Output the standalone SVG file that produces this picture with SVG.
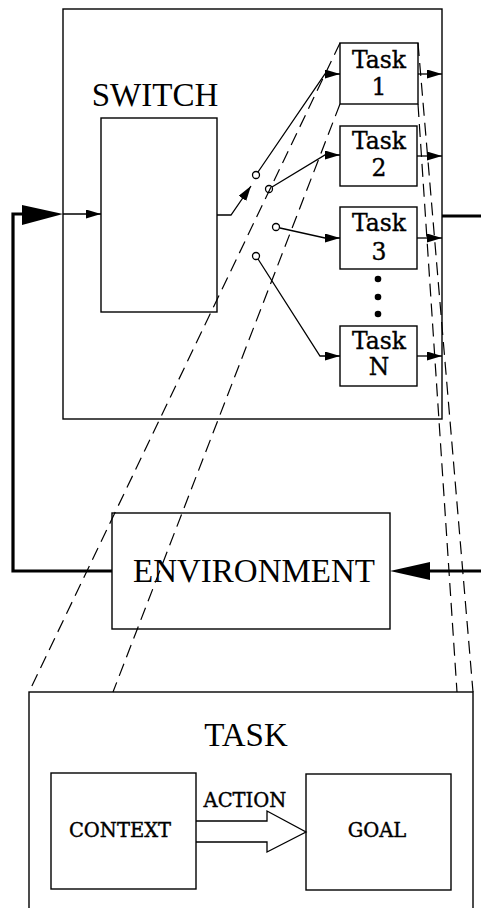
<svg xmlns="http://www.w3.org/2000/svg" width="481" height="908" viewBox="0 0 481 908">
<style>
.box{fill:none;stroke:#000;stroke-width:1.4}
.ln{fill:none;stroke:#000;stroke-width:1.3}
.thick{fill:none;stroke:#000;stroke-width:3.2}
.dash{fill:none;stroke:#000;stroke-width:1.2;stroke-dasharray:13 7}
.sw{fill:#fff;stroke:#000;stroke-width:1.3}
.big{font-family:"Liberation Serif","Times New Roman",serif;fill:#000;text-anchor:middle}
.tk{font-family:"DejaVu Serif",serif;font-size:23.5px;fill:#000;stroke:#000;stroke-width:0.35;text-anchor:middle}
.lb{font-family:"DejaVu Serif",serif;font-size:19.5px;fill:#000;stroke:#000;stroke-width:0.4;text-anchor:middle}
</style>
<defs>
<marker id="arr" markerUnits="userSpaceOnUse" markerWidth="16" markerHeight="10" refX="15" refY="4.5" orient="auto">
<path d="M0,0 L15,4.5 L0,9 z" fill="#000"/>
</marker>
</defs>
<rect width="481" height="908" fill="#fff"/>

<g id="switch-frame">
<rect class="box" x="63" y="9" width="379" height="410"/>
<text class="big" x="155" y="106" font-size="33">SWITCH</text>
</g>
<g id="switch">
<rect class="box" x="101" y="118" width="116" height="194"/>
</g>

<g id="task1">
<rect class="box" x="340" y="43" width="78" height="61"/>
<text class="tk" x="379" y="68">Task</text>
<text class="tk" x="379" y="95">1</text>
</g>
<g id="task2">
<rect class="box" x="340" y="126" width="77" height="60"/>
<text class="tk" x="379" y="149">Task</text>
<text class="tk" x="379" y="176">2</text>
</g>
<g id="task3">
<rect class="box" x="340" y="207" width="77" height="62"/>
<text class="tk" x="379" y="231">Task</text>
<text class="tk" x="379" y="260">3</text>
</g>
<g id="dots">
<circle cx="378" cy="279" r="3.3" fill="#000"/>
<circle cx="378" cy="297" r="3.3" fill="#000"/>
<circle cx="378" cy="314" r="3.3" fill="#000"/>
</g>
<g id="taskN">
<rect class="box" x="340" y="326" width="77" height="60"/>
<text class="tk" x="379" y="349">Task</text>
<text class="tk" x="379" y="375">N</text>
</g>

<g id="environment">
<rect class="box" x="112" y="513" width="278" height="116"/>
<text class="big" x="254" y="582" font-size="33">ENVIRONMENT</text>
</g>

<g id="task-detail">
<rect class="box" x="29" y="692" width="444" height="230"/>
<text class="big" x="246" y="746" font-size="33">TASK</text>
</g>
<g id="context">
<rect class="box" x="51" y="773" width="145" height="116"/>
<text class="lb" x="120" y="837">CONTEXT</text>
</g>
<g id="goal">
<rect class="box" x="306" y="774" width="145" height="116"/>
<text class="lb" x="377" y="837">GOAL</text>
</g>

<g id="connectors">
<polyline class="thick" points="112,571 13,571 13,214 24,214"/>
<polygon points="22,205 63,214 22,225" fill="#000"/>
<line class="ln" x1="63" y1="214" x2="101" y2="214" marker-end="url(#arr)"/>
<polyline class="ln" points="217,215 231,215 251,186" marker-end="url(#arr)"/>
<polyline class="ln" points="258,172 325,74 340,74" marker-end="url(#arr)"/>
<polyline class="ln" points="272,187 325,155 340,155" marker-end="url(#arr)"/>
<polyline class="ln" points="280,228 325,238 340,238" marker-end="url(#arr)"/>
<polyline class="ln" points="258,259 320,356 340,356" marker-end="url(#arr)"/>
<circle class="sw" cx="256" cy="175" r="3.5"/>
<circle class="sw" cx="269" cy="189" r="3.5"/>
<circle class="sw" cx="276" cy="227" r="3.5"/>
<circle class="sw" cx="256" cy="256" r="3.5"/>
<line class="ln" x1="418" y1="74" x2="442" y2="74" marker-end="url(#arr)"/>
<line class="ln" x1="417" y1="156" x2="442" y2="156" marker-end="url(#arr)"/>
<line class="ln" x1="417" y1="238" x2="442" y2="238" marker-end="url(#arr)"/>
<line class="ln" x1="417" y1="356" x2="442" y2="356" marker-end="url(#arr)"/>
<line class="thick" x1="442" y1="216" x2="481" y2="216"/>
<line class="thick" x1="481" y1="571" x2="428" y2="571"/>
<polygon points="390,571 430,562 430,580" fill="#000"/>
<line class="dash" x1="340" y1="43" x2="29" y2="692"/>
<line class="dash" x1="340" y1="104" x2="113" y2="692"/>
<line class="dash" x1="418" y1="43" x2="473" y2="692"/>
<line class="dash" x1="418" y1="104" x2="457" y2="692"/>
<path class="ln" d="M196,821 L267,821 L267,811 L306,832 L267,852 L267,842 L196,842"/>
<text class="lb" x="245" y="807">ACTION</text>
</g>
</svg>
